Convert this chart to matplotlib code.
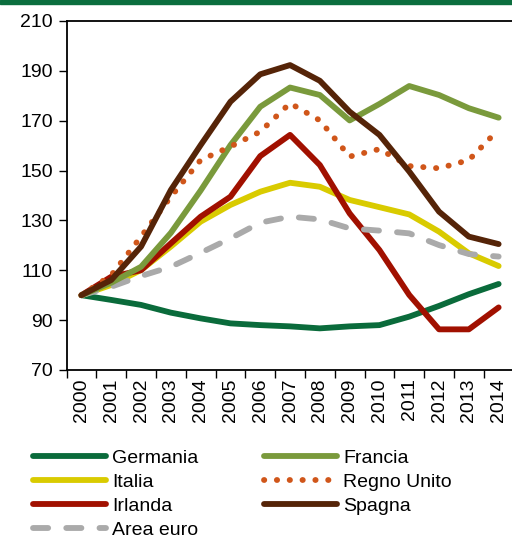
import numpy as np
import matplotlib
matplotlib.use("Agg")
import matplotlib.pyplot as plt
from matplotlib.patches import Rectangle

plt.rcParams['font.family'] = ['Liberation Sans', 'DejaVu Sans']

# dati (2000 = 100)
anni = [str(a) for a in range(2000, 2015)]
germania = [100, 98.1, 96.1, 93.0, 90.7, 88.7, 88.0, 87.5, 86.7, 87.5, 88.0, 91.4, 95.7, 100.4, 104.5]
francia = [100, 105, 111.4, 125, 142, 160.2, 175.6, 183.3, 180.3, 170.1, 176.7, 183.9, 180.3, 175, 171.2]
italia = [100, 104.1, 110.1, 119.5, 129.5, 136.2, 141.5, 145.1, 143.5, 138.2, 135.3, 132.4, 125.5, 116.8, 111.7]
regno_unito = [100, 108, 123.5, 139.5, 154.2, 159.6, 165.6, 177, 170.1, 155.6, 158.6, 151.8, 150.9, 154.2, 166.5]
irlanda = [100, 107.4, 110, 120.8, 131.5, 139.5, 155.8, 164.3, 152.2, 132.8, 118.1, 100.1, 86.3, 86.3, 95.1]
spagna = [100, 106.1, 119.5, 142.2, 160.2, 177.6, 188.6, 192.3, 186.0, 173.6, 164.3, 149.6, 133.5, 123.5, 120.5]
area_euro = [100, 103.4, 107.7, 111.4, 117, 122.8, 129.1, 131.5, 130.4, 126.8, 125.9, 124.8, 120.1, 116.5, 115.5]

x = np.arange(len(anni))
lw = 4.2

fig = plt.figure(figsize=(5.12, 5.37), dpi=100)
ax = fig.add_axes([0.130, 0.311, 0.873, 0.650])

# barra verde in alto
fig.patches.append(Rectangle((0, 0.992), 1, 0.008, transform=fig.transFigure,
                             color='#0B6E3E', zorder=0))

ax.plot(x, germania, color='#0A6B3B', lw=lw, label='Germania', solid_capstyle='round')
ax.plot(x, italia, color='#D9CB00', lw=lw, label='Italia', solid_capstyle='round')
ax.plot(x, irlanda, color='#A11000', lw=lw, label='Irlanda', solid_capstyle='round')
ax.plot(x, area_euro, color='#AAAAAA', lw=lw, label='Area euro', linestyle=(0, (2.6, 3.1)),
        dash_capstyle='round')
ax.plot(x, francia, color='#7A9A3C', lw=lw, label='Francia', solid_capstyle='round')
ax.plot(x, regno_unito, color='#D0561A', lw=lw, label='Regno Unito', linestyle=(0, (0.05, 2.15)),
        dash_capstyle='round')
ax.plot(x, spagna, color='#552408', lw=lw, label='Spagna', solid_capstyle='round')

ax.set_xlim(-0.5, len(anni) - 0.5)
ax.set_ylim(70, 210)
ax.set_yticks(range(70, 211, 20))
ax.set_xticks(x)
ax.set_xticklabels(anni, rotation=90)
ax.set_xticks(np.arange(-0.5, len(anni), 1), minor=True)
ax.tick_params(axis='x', which='major', length=0, pad=6, labelsize=14)
ax.tick_params(axis='x', which='minor', length=6, width=1, direction='out')
ax.tick_params(axis='y', length=6, width=1, direction='out', labelsize=14, pad=4)

ax.spines['right'].set_visible(False)
for s in ['left', 'top', 'bottom']:
    ax.spines[s].set_linewidth(1.3)

handles, labels = ax.get_legend_handles_labels()
ordine = ['Germania', 'Italia', 'Irlanda', 'Area euro', 'Francia', 'Regno Unito', 'Spagna']
h = [handles[labels.index(n)] for n in ordine]
fig.legend(h, ordine, loc='upper left', bbox_to_anchor=(0.065, 0.163), ncol=2,
           frameon=False, fontsize=14, handlelength=3.75, handletextpad=0.3,
           labelspacing=0.33, columnspacing=3.4, borderaxespad=0, borderpad=0)

fig.savefig('out.png', dpi=100)
